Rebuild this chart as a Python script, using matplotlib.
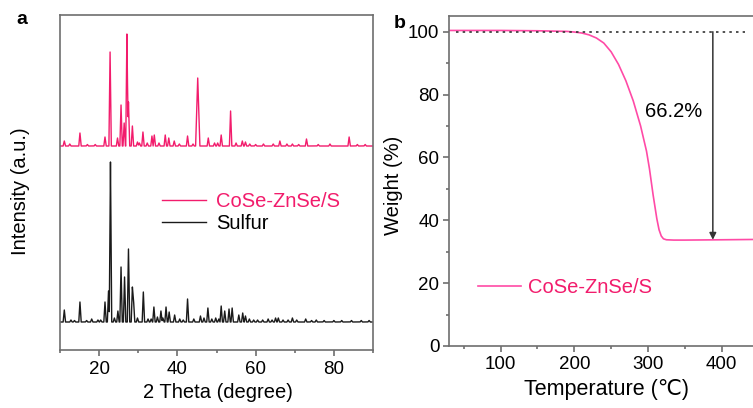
import numpy as np
import matplotlib
matplotlib.use('Agg')
import matplotlib.pyplot as plt
from matplotlib.ticker import MultipleLocator

plt.rcParams['font.family'] = ['Liberation Sans', 'DejaVu Sans']

# ---- panel a: XRD peaks (2theta, height above baseline)
pink_pos = [11.1, 12.5, 15.1, 17.0, 19.0, 21.5, 22.8, 24.7, 25.6, 26.4, 27.1, 27.5, 28.5,
            29.8, 30.3, 31.2, 32.3, 33.5, 34.1, 35.3, 36.9, 37.8, 39.2, 40.5, 42.6, 44.0,
            45.2, 47.9, 49.5, 50.3, 51.2, 53.6, 55.0, 56.6, 57.4, 58.5, 60.0, 62.0, 64.5,
            66.2, 68.0, 69.4, 71.0, 73.0, 76.0, 79.0, 83.9, 86.0, 88.0]
pink_h = [5, 2, 13, 1.5, 1.5, 9, 94, 8, 41, 23, 112, 44, 20,
          4, 3, 14, 3, 10, 11, 3, 11, 8, 5, 2, 10, 2,
          68, 8, 3, 3, 11, 35, 3, 5, 4, 2, 1.5, 2, 2,
          5, 2, 2, 1.5, 7, 1.5, 2, 9, 1.5, 1.5]
pink_base = 204

black_pos = [11.1, 12.8, 13.7, 15.1, 16.8, 18.1, 19.7, 20.4, 21.5, 22.4, 22.9, 23.9, 24.8,
             25.6, 26.5, 27.5, 28.5, 28.8, 29.8, 31.3, 32.5, 33.3, 34.0, 34.9, 35.8, 36.3,
             37.1, 37.9, 39.3, 40.6, 41.5, 42.6, 44.2, 45.9, 46.8, 47.8, 48.8, 49.8, 50.6,
             51.2, 52.1, 53.2, 54.0, 55.7, 56.7, 57.4, 58.4, 59.5, 60.5, 61.8, 63.2, 64.2,
             65.1, 65.8, 67.0, 68.3, 69.4, 70.5, 72.8, 74.3, 75.5, 77.5, 80.0, 82.0, 84.5,
             87.0, 89.0]
black_h = [12, 2, 1.5, 20, 1.5, 3, 2, 2, 20, 31, 160, 4, 11,
           55, 45, 73, 35, 22, 4, 30, 3, 3, 15, 5, 11, 4,
           15, 10, 7, 3, 2, 23, 3, 6, 4, 14, 3, 4, 3,
           16, 11, 13, 14, 7, 9, 6, 3, 2, 2, 2, 3, 2,
           4, 4, 2, 2, 4, 2, 3, 1.5, 2, 1.5, 1.5, 1.5, 1.5,
           1.5, 1.5]
black_base = 28

# ---- panel b: TGA curve
tga_T = [30, 100, 150, 190, 200, 210, 220, 230, 240, 250, 260, 270, 280, 290, 298,
         302, 307, 312, 315, 318, 321, 325, 335, 350, 400, 445]
tga_W = [100.4, 100.4, 100.3, 100.1, 99.9, 99.6, 99.0, 98.0, 96.4, 93.6, 89.6, 84.4, 78.0,
         70.0, 62.0, 56.4, 48.0, 40.5, 37.0, 35.0, 34.1, 33.8, 33.7, 33.7, 33.8, 33.9]

PINK = '#f21c6c'
PINK2 = '#ff4aa6'
SPINE = '#6e6e6e'


def trace(pos, h, base, hw=0.3):
    # sharp triangular peaks on a flat baseline
    x = np.linspace(10, 90, 4001)
    y = np.full_like(x, float(base))
    for p, a in zip(pos, h):
        w = hw * 1.8 if a > 60 and p > 40 else hw
        y += a * np.clip(1 - np.abs(x - p) / w, 0, None)
    return x, y


fig = plt.figure(figsize=(7.53, 4.08), dpi=100)

# ================= panel a
ax1 = fig.add_axes([60 / 753, 58 / 408, 313 / 753, 335 / 408])
xp, yp = trace(pink_pos, pink_h, pink_base)
xb, yb = trace(black_pos, black_h, black_base)
ax1.plot(xp, yp, color=PINK, lw=1.0, label='CoSe-ZnSe/S')
ax1.plot(xb, yb, color='#1a1a1a', lw=1.0, label='Sulfur')
ax1.set_xlim(10, 90)
ax1.set_ylim(0, 335)
ax1.set_yticks([])
ax1.xaxis.set_major_locator(MultipleLocator(20))
ax1.xaxis.set_minor_locator(MultipleLocator(10))
ax1.tick_params(axis='x', which='major', direction='out', length=4, width=1.2,
                color=SPINE, labelsize=13.5, pad=4)
ax1.tick_params(axis='x', which='minor', direction='out', length=2.5, width=1.2, color=SPINE)
for s in ax1.spines.values():
    s.set_color(SPINE)
    s.set_linewidth(1.2)
ax1.text(0.505, -0.128, '2 Theta (degree)', transform=ax1.transAxes, ha='center',
         va='center', fontsize=14.5)
ax1.text(-0.125, 0.475, 'Intensity (a.u.)', transform=ax1.transAxes, ha='center',
         va='center', rotation=90, fontsize=14.5)
leg = ax1.legend(loc='upper left', bbox_to_anchor=(0.30, 0.495), frameon=False,
                 fontsize=14.5, handlelength=2.2, handletextpad=0.5, labelspacing=0.15,
                 borderaxespad=0)
leg.get_texts()[0].set_color(PINK)
fig.text(22 / 753, 1 - 20 / 408, 'a', ha='center', va='center', fontsize=14,
         fontweight='bold')

# ================= panel b
ax2 = fig.add_axes([449 / 753, 62 / 408, 304 / 753, 330 / 408])
ax2.plot(tga_T, tga_W, color=PINK2, lw=1.2, label='CoSe-ZnSe/S')
ax2.plot([40, 432], [100, 100], color='#333333', lw=1.2, ls=(0, (1.5, 2.5)))
ax2.annotate('', xy=(388, 33.8), xytext=(388, 100),
             arrowprops=dict(arrowstyle='-|>', color='#333333', lw=1.1,
                             mutation_scale=10, shrinkA=0, shrinkB=0))
ax2.text(334.5, 74.5, '66.2%', ha='center', va='center', fontsize=14.5)
ax2.set_xlim(30, 442.5)
ax2.set_ylim(0, 105)
ax2.xaxis.set_major_locator(MultipleLocator(100))
ax2.xaxis.set_minor_locator(MultipleLocator(50))
ax2.yaxis.set_major_locator(MultipleLocator(20))
ax2.yaxis.set_minor_locator(MultipleLocator(10))
ax2.tick_params(which='major', direction='out', length=4, width=1.2, color=SPINE,
                labelsize=13.5, pad=3)
ax2.tick_params(which='minor', direction='out', length=2.5, width=1.2, color=SPINE)
for s in ax2.spines.values():
    s.set_color(SPINE)
    s.set_linewidth(1.2)
ax2.spines['right'].set_visible(False)
ax2.text(0.518, -0.133, 'Temperature (\u2103)', transform=ax2.transAxes, ha='center',
         va='center', fontsize=15.5)
ax2.text(-0.184, 0.488, 'Weight (%)', transform=ax2.transAxes, ha='center',
         va='center', rotation=90, fontsize=14.5)
leg2 = ax2.legend(loc='center left', bbox_to_anchor=(0.07, 0.178), frameon=False,
                  fontsize=14.5, handlelength=2.1, handletextpad=0.35, borderaxespad=0)
leg2.get_texts()[0].set_color(PINK)
fig.text(400 / 753, 1 - 23 / 408, 'b', ha='center', va='center', fontsize=14,
         fontweight='bold')

fig.savefig('out.png', dpi=100)
